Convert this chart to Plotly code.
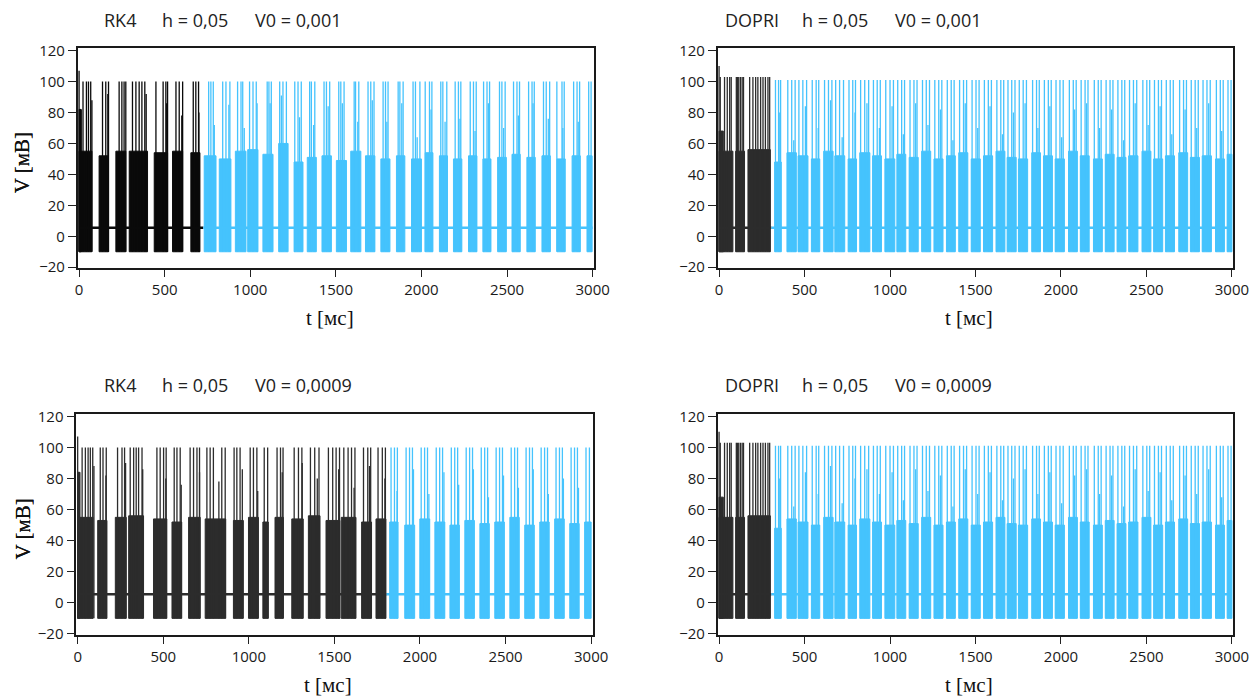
import plotly.graph_objects as go

# ---------------- data (ms, mV) ----------------
v_rest = 5.5
v_trough = -10.0

# Panel A: RK4, h = 0,05, V0 = 0,001
a_switch = 725
a_start = [0, 0, 117, 215, 293, 439, 546, 653,
           731, 819, 913, 985, 1074, 1166, 1256, 1333, 1419, 1503, 1587, 1673, 1763, 1854, 1942,
           2022, 2105, 2187, 2275, 2359, 2445, 2529, 2616, 2704, 2792, 2880, 2967]
a_end = [12, 75, 172, 273, 400, 517, 605, 706,
         800, 887, 975, 1045, 1133, 1221, 1308, 1386, 1474, 1562, 1646, 1728, 1816, 1903, 2000,
         2067, 2152, 2236, 2324, 2406, 2496, 2577, 2665, 2753, 2840, 2928, 2997]
a_top = [82, 55, 52, 55, 55, 54, 55, 54,
         52, 50, 55, 56, 53, 60, 48, 51, 52, 49, 55, 52, 50, 52, 50,
         54, 52, 50, 52, 50, 51, 53, 51, 52, 50, 52, 52]
a_spike_t = [0, 23, 43, 55, 68, 137, 156, 172, 234, 250, 263, 273, 312, 332, 351, 367, 384,
             449, 491, 507, 517, 566, 585, 605, 667, 682, 698,
             757, 770, 784, 839, 858, 881, 926, 946, 956, 996, 1016, 1035, 1099, 1109, 1123,
             1172, 1191, 1211, 1260, 1279, 1298, 1347, 1357, 1377, 1431, 1445, 1464,
             1517, 1529, 1548, 1607, 1615, 1634, 1688, 1704, 1723, 1776, 1790, 1805,
             1864, 1874, 1893, 1951, 1965, 1991, 2022, 2047, 2061, 2113, 2125, 2148,
             2197, 2216, 2230, 2285, 2304, 2320, 2363, 2383, 2398, 2456, 2470, 2489,
             2538, 2558, 2573, 2626, 2646, 2659, 2713, 2729, 2749, 2791, 2821, 2834,
             2889, 2909, 2924, 2977, 2991]
a_spike_v = [107] + [100] * (len(a_spike_t) - 1)
a_mid_t = [12, 75, 168, 392, 512, 600, 700, 790, 875, 965, 1040, 1116, 1182, 1288, 1370,
           1455, 1538, 1628, 1713, 1798, 1885, 1975, 2056, 2138, 2225, 2313, 2391, 2480,
           2566, 2652, 2741, 2826, 2916]
a_mid_v = [82, 88, 92, 92, 86, 78, 80, 72, 85, 70, 86, 86, 91, 77, 72, 84, 86, 74, 88, 74,
           86, 64, 82, 74, 76, 68, 86, 70, 78, 86, 76, 70, 74]

# Panel B: DOPRI, h = 0,05, V0 = 0,001
b_switch = 306
b_start = [0, 0, 97, 169,
           325, 397, 462, 540, 612, 677, 755, 823, 898, 970, 1040, 1112, 1185, 1257, 1330,
           1402, 1475, 1547, 1620, 1685, 1751, 1829, 1898, 1966, 2044, 2113, 2190, 2259,
           2328, 2396, 2474, 2542, 2611, 2689, 2757, 2826, 2904, 2972]
b_end = [25, 81, 149, 300,
         364, 452, 520, 589, 667, 735, 804, 882, 950, 1028, 1092, 1165, 1238, 1310, 1382,
         1455, 1528, 1600, 1672, 1738, 1805, 1880, 1950, 2020, 2096, 2165, 2242, 2311,
         2380, 2450, 2526, 2595, 2664, 2741, 2810, 2880, 2956, 3000]
b_top = [68, 55, 55, 56,
         48, 54, 52, 50, 55, 52, 50, 54, 52, 50, 53, 51, 55, 50, 52, 54, 50, 52, 55, 51,
         50, 54, 52, 50, 55, 52, 50, 53, 51, 52, 55, 50, 52, 54, 51, 52, 50, 53]
b_spike_t = [0, 7, 32, 48, 62, 71, 101, 108, 115, 125, 135, 143,
             179, 198, 214, 227, 243, 257, 271, 286, 296,
             330, 348, 360, 402, 425, 445, 467, 490, 512, 545, 568, 583, 617, 640, 660,
             682, 705, 728, 760, 782, 798, 828, 852, 875, 903, 925, 943, 975, 1000, 1020,
             1045, 1068, 1085, 1117, 1140, 1158, 1190, 1212, 1231, 1262, 1285, 1303,
             1335, 1358, 1375, 1407, 1430, 1448, 1480, 1503, 1521, 1552, 1575, 1593,
             1625, 1648, 1665, 1690, 1712, 1731, 1756, 1779, 1798, 1834, 1857, 1873,
             1903, 1926, 1943, 1971, 1994, 2013, 2049, 2072, 2089, 2118, 2141, 2158,
             2195, 2218, 2235, 2264, 2287, 2304, 2333, 2356, 2373, 2401, 2424, 2443,
             2479, 2502, 2519, 2547, 2570, 2588, 2616, 2639, 2657, 2694, 2717, 2734,
             2762, 2785, 2803, 2831, 2854, 2873, 2909, 2932, 2949, 2977, 2995]
b_spike_v = [110] + [103] * 20 + [101] * (len(b_spike_t) - 21)
b_mid_t = [355, 437, 505, 580, 652, 720, 795, 865, 938, 1012, 1078, 1150, 1222, 1295, 1368,
           1440, 1513, 1585, 1658, 1722, 1790, 1865, 1935, 2004, 2080, 2150, 2226, 2296,
           2366, 2434, 2510, 2580, 2648, 2726, 2794, 2864, 2940]
b_mid_v = [80, 62, 84, 70, 88, 64, 80, 86, 70, 84, 66, 86, 72, 82, 62, 86, 70, 84, 66, 80,
           86, 70, 84, 64, 82, 86, 70, 82, 62, 86, 72, 84, 66, 82, 70, 86, 68]

# Panel C: RK4, h = 0,05, V0 = 0,0009
c_switch = 1805
c_start = [0, 0, 117, 220, 298, 443, 551, 648, 745, 910, 998, 1082, 1153, 1251, 1348, 1451,
           1540, 1659, 1743,
           1823, 1911, 1999, 2087, 2175, 2262, 2350, 2437, 2525, 2612, 2700, 2787, 2875, 2962]
c_end = [12, 90, 171, 284, 385, 521, 608, 716, 865, 968, 1056, 1114, 1202, 1318, 1416, 1532,
         1626, 1717, 1801,
         1872, 1969, 2057, 2145, 2230, 2318, 2405, 2493, 2580, 2668, 2755, 2843, 2930, 3000]
c_top = [84, 55, 53, 55, 56, 54, 52, 55, 54, 53, 55, 52, 55, 54, 56, 53, 55, 52, 54,
         52, 50, 54, 52, 50, 53, 51, 52, 55, 50, 52, 54, 51, 52]
c_spike_t = [0, 26, 45, 61, 74, 88, 132, 148, 167, 233, 259, 274, 307, 327, 342, 356, 376,
             463, 482, 502, 517, 564, 580, 599, 657, 677, 697, 712, 755, 774, 793, 842, 862,
             914, 930, 949, 1008, 1027, 1047, 1090, 1110, 1165, 1185, 1200, 1265, 1290, 1310,
             1360, 1385, 1410, 1465, 1490, 1510, 1530, 1555, 1580, 1600, 1620, 1670, 1695, 1712,
             1755, 1780, 1798,
             1831, 1851, 1868, 1919, 1939, 1956, 2007, 2027, 2044, 2095, 2115, 2132,
             2183, 2203, 2220, 2270, 2290, 2307, 2358, 2378, 2395, 2445, 2465, 2482,
             2533, 2553, 2570, 2620, 2640, 2657, 2708, 2728, 2745, 2795, 2815, 2832,
             2883, 2903, 2920, 2970, 2990]
c_spike_v = [107] + [100] * (len(c_spike_t) - 1)
c_mid_t = [12, 95, 165, 280, 380, 515, 605, 712, 825, 962, 1052, 1195, 1312, 1400, 1525,
           1615, 1705, 1795, 1866, 1962, 2052, 2140, 2226, 2312, 2400, 2488, 2575, 2662,
           2750, 2838, 2926]
c_mid_v = [84, 88, 82, 90, 86, 80, 76, 84, 78, 86, 72, 84, 90, 80, 86, 74, 88, 80, 72, 86,
           70, 84, 76, 86, 68, 82, 74, 86, 70, 80, 74]

# Panel D: DOPRI, h = 0,05, V0 = 0,0009 (same trace as panel B in the picture)
d_switch = b_switch
d_start, d_end, d_top = b_start, b_end, b_top
d_spike_t, d_spike_v = b_spike_t, b_spike_v
d_mid_t, d_mid_v = b_mid_t, b_mid_v

BLUE = "#45C3FD"

panels = [
    dict(sw=a_switch, s=a_start, e=a_end, top=a_top, st=a_spike_t, sv=a_spike_v,
         mt=a_mid_t, mv=a_mid_v, dark="#0a0a0a",
         title=["RK4", "h = 0,05", "V0 = 0,001"], x0=77.7, x1=594.0, y0=48.3, y1=268.3,
         tx=[101.7, 160.0, 253.3], ty=20),
    dict(sw=b_switch, s=b_start, e=b_end, top=b_top, st=b_spike_t, sv=b_spike_v,
         mt=b_mid_t, mv=b_mid_v, dark="#2c2c2c",
         title=["DOPRI", "h = 0,05", "V0 = 0,001"], x0=717.7, x1=1233.3, y0=48.3, y1=268.3,
         tx=[723.3, 800.0, 893.3], ty=20),
    dict(sw=c_switch, s=c_start, e=c_end, top=c_top, st=c_spike_t, sv=c_spike_v,
         mt=c_mid_t, mv=c_mid_v, dark="#2c2c2c",
         title=["RK4", "h = 0,05", "V0 = 0,0009"], x0=76.3, x1=592.5, y0=414.0, y1=635.0,
         tx=[101.7, 160.0, 253.3], ty=385),
    dict(sw=d_switch, s=d_start, e=d_end, top=d_top, st=d_spike_t, sv=d_spike_v,
         mt=d_mid_t, mv=d_mid_v, dark="#2c2c2c",
         title=["DOPRI", "h = 0,05", "V0 = 0,0009"], x0=717.7, x1=1233.3, y0=414.0, y1=635.0,
         tx=[723.3, 800.0, 893.3], ty=385),
]

# the page body adds an 8 px margin: lay the figure out in screenshot pixels minus 8
OFF = 8
W, H = 1257 - OFF, 696 - OFF


def px(x):
    return (x - OFF) / W


def py(y):
    return 1 - (y - OFF) / H


fig = go.Figure()
annotations = []
layout = {}

for i, p in enumerate(panels):
    k = "" if i == 0 else str(i + 1)
    xa, ya = "x" + k, "y" + k
    sw = p["sw"]
    for col, first in ((p["dark"], True), (BLUE, False)):
        def take(t):
            return (t < sw) if first else (t >= sw)
        fx, fy = [], []
        for s, e, tp in zip(p["s"], p["e"], p["top"]):
            if take(s):
                fx += [s, s, e, e, s, None]
                fy += [v_trough, tp, tp, v_trough, v_trough, None]
        fig.add_trace(go.Scatter(x=fx, y=fy, mode="lines", fill="toself", fillcolor=col,
                                 line=dict(color=col, width=1), xaxis=xa, yaxis=ya,
                                 hoverinfo="skip", showlegend=False))
        sx, sy = [], []
        for t, v in list(zip(p["st"], p["sv"])) + list(zip(p["mt"], p["mv"])):
            if take(t):
                sx += [t, t, None]
                sy += [v_trough, v, None]
        fig.add_trace(go.Scatter(x=sx, y=sy, mode="lines", line=dict(color=col, width=1.3),
                                 xaxis=xa, yaxis=ya, hoverinfo="skip", showlegend=False))
    fig.add_trace(go.Scatter(x=[0, sw], y=[v_rest, v_rest], mode="lines",
                             line=dict(color=p["dark"], width=2.5), xaxis=xa, yaxis=ya,
                             hoverinfo="skip", showlegend=False))
    fig.add_trace(go.Scatter(x=[sw, 3000], y=[v_rest, v_rest], mode="lines",
                             line=dict(color=BLUE, width=2.5), xaxis=xa, yaxis=ya,
                             hoverinfo="skip", showlegend=False))

    dom_x = [px(p["x0"]), px(p["x1"])]
    dom_y = [py(p["y1"]), py(p["y0"])]
    axfont = dict(family="Open Sans, Noto Sans, sans-serif", size=15, color="#1a1a1a")
    layout["xaxis" + k] = dict(domain=dom_x, range=[-8, 3008], anchor=ya, automargin=False,
                               tickvals=[0, 500, 1000, 1500, 2000, 2500, 3000],
                               ticks="outside", ticklen=7, tickwidth=1.2, tickcolor="#222",
                               ticklabelstandoff=0,
                               showline=True, linecolor="#1a1a1a", linewidth=1.6, mirror=True,
                               showgrid=False, zeroline=False, tickfont=axfont, fixedrange=True)
    layout["yaxis" + k] = dict(domain=dom_y, range=[-20.7, 121.5], anchor=xa, automargin=False,
                               tickvals=[-20, 0, 20, 40, 60, 80, 100, 120],
                               ticks="outside", ticklen=8, tickwidth=1.2, tickcolor="#222",
                               showline=True, linecolor="#1a1a1a", linewidth=1.6, mirror=True,
                               showgrid=False, zeroline=False, tickfont=axfont, fixedrange=True)
    for txt, tx in zip(p["title"], p["tx"]):
        annotations.append(dict(text=txt, x=px(tx), y=py(p["ty"]), xref="paper", yref="paper",
                                xanchor="left", yanchor="middle", showarrow=False,
                                font=dict(family="Open Sans, Noto Sans, sans-serif", size=18,
                                          color="#222")))
    serif = dict(family="Liberation Serif, Times New Roman, serif", size=21, color="#111")
    annotations.append(dict(text="V [мВ]", x=px(22), y=py((p["y0"] + p["y1"]) / 2 + 5),
                            xref="paper", yref="paper", textangle=-90, showarrow=False,
                            xanchor="center", yanchor="middle", font=serif))
    annotations.append(dict(text="t [мс]", x=px(p["x0"] + (p["x1"] - p["x0"]) * 0.488),
                            y=py(p["y1"] + 50), xref="paper", yref="paper",
                            showarrow=False, xanchor="center", yanchor="middle", font=serif))

fig.update_layout(width=W, height=H, margin=dict(l=0, r=0, t=0, b=0),
                  paper_bgcolor="white", plot_bgcolor="white", showlegend=False,
                  annotations=annotations, **layout)
fig.write_html("out.html")
